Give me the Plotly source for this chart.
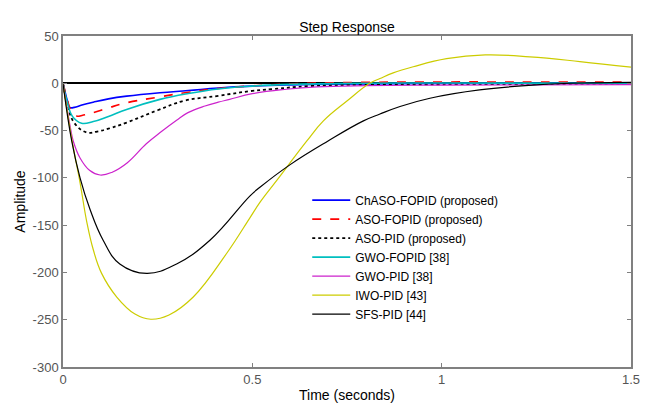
import plotly.graph_objects as go

# ---- data ----
names = ["ChASO-FOPID (proposed)", "ASO-FOPID (proposed)", "ASO-PID (proposed)",
         "GWO-FOPID [38]", "GWO-PID [38]", "IWO-PID [43]", "SFS-PID [44]"]

t_chaso = [0, 0.006, 0.012, 0.018, 0.03, 0.05, 0.08, 0.12, 0.168, 0.256, 0.331, 0.41, 0.5, 0.6, 0.8, 1.0, 1.5]
y_chaso = [0, -10, -19, -25.5, -25.5, -23, -20, -16.5, -13.6, -10, -7.7, -5, -3, -1.8, -0.6, -0.2, 0]

t_asofo = [0, 0.01, 0.02, 0.036, 0.05, 0.08, 0.12, 0.168, 0.256, 0.331, 0.41, 0.5, 0.6, 0.7, 0.8, 1.0, 1.2, 1.5]
y_asofo = [0, -15, -28, -34.6, -34, -31, -26, -20.6, -14.3, -9.5, -5.5, -2.7, -0.7, 0.4, 1, 1.4, 1.4, 1.2]

t_asopid = [0, 0.01, 0.03, 0.063, 0.09, 0.12, 0.168, 0.25, 0.32, 0.41, 0.5, 0.55, 0.65, 0.8, 1.0, 1.5]
y_asopid = [0, -20, -42, -52, -51, -48, -41.5, -28.5, -18.5, -13.3, -8, -6.3, -3, -1.5, -1, -0.5]

t_gwofo = [0, 0.01, 0.025, 0.049, 0.08, 0.12, 0.168, 0.256, 0.331, 0.41, 0.5, 0.6, 0.8, 1.0, 1.5]
y_gwofo = [0, -18, -35, -42.3, -40.5, -35, -27.6, -17, -10.8, -6, -3, -1.2, 0, 0.3, 0]

t_gwopid = [0, 0.01, 0.02, 0.027, 0.045, 0.07, 0.098, 0.13, 0.17, 0.22, 0.26, 0.3, 0.33, 0.375, 0.41, 0.44, 0.5, 0.59, 0.67, 0.8, 1.0, 1.5]
y_gwopid = [0, -25, -48, -61, -79, -92, -97, -94, -84, -64, -51, -39, -31, -24, -20, -17, -11, -6.3, -3.8, -2.5, -2, -1.5]

t_iwo = [0, 0.024, 0.045, 0.063, 0.08, 0.102, 0.142, 0.19, 0.232, 0.28, 0.344, 0.432, 0.494, 0.52, 0.564, 0.644, 0.687, 0.749,
         0.81, 0.837, 0.872, 0.925, 1.013, 1.115, 1.233, 1.365, 1.5]
y_iwo = [0, -61, -105, -147, -176, -201, -226, -244, -249.5, -245, -226, -180, -142, -126, -103, -61, -40, -19,
         0, 5, 11, 17.5, 26, 30, 28, 23, 17]

t_sfs = [0, 0.023, 0.045, 0.071, 0.106, 0.15, 0.221, 0.3, 0.388, 0.494, 0.52, 0.6, 0.7, 0.792, 0.837, 0.89, 0.969, 1.1, 1.25, 1.4, 1.5]
y_sfs = [0, -61, -100, -133, -166, -191, -201, -191, -166, -119, -110, -86, -61, -40, -32.5, -24.5, -15.8, -7, -1.7, 0.5, 1]

x_ticks = [0, 0.5, 1, 1.5]
x_tick_labels = ["0", "0.5", "1", "1.5"]
y_ticks = [-300, -250, -200, -150, -100, -50, 0, 50]
y_tick_labels = ["-300", "-250", "-200", "-150", "-100", "-50", "0", "50"]

series = [
    (t_chaso, y_chaso, "#0000ff", "solid", 1.6),
    (t_asofo, y_asofo, "#ff0000", "dash", 1.6),
    (t_asopid, y_asopid, "#000000", "dot", 1.8),
    (t_gwofo, y_gwofo, "#00bfbf", "solid", 1.6),
    (t_gwopid, y_gwopid, "#cc22cc", "solid", 1.2),
    (t_iwo, y_iwo, "#cccc00", "solid", 1.2),
    (t_sfs, y_sfs, "#000000", "solid", 1.2),
]

fig = go.Figure()
for name, (tx, ty, col, dash, w) in zip(names, series):
    fig.add_trace(go.Scatter(x=tx, y=ty, mode="lines", name=name,
                             line=dict(color=col, dash=dash, width=w, shape="spline", smoothing=1.2)))

font_fam = "Arial, Liberation Sans, sans-serif"
W, H = 646, 395   # page body has an 8px margin, so the figure sits at (8, 8)
fig.update_layout(
    width=W, height=H,
    margin=dict(l=55, r=23, t=28, b=36, autoexpand=False),
    paper_bgcolor="white", plot_bgcolor="white",
    font=dict(family=font_fam, size=13, color="#404040"),
    title=dict(text="Step Response", x=0.5, xanchor="center", xref="paper",
               y=1 - 19 / H, yref="container", yanchor="middle", automargin=False,
               font=dict(family=font_fam, size=14, color="#000000")),
    showlegend=True,
    legend=dict(x=0.43, y=0.548, xanchor="left", yanchor="top",
                bgcolor="rgba(255,255,255,1)", borderwidth=0,
                font=dict(family=font_fam, size=12, color="#000000"),
                tracegroupgap=0, itemwidth=38),
)
fig.update_xaxes(range=[0, 1.5], tickvals=x_ticks, ticktext=x_tick_labels, automargin=False,
                 showgrid=False, zeroline=False, showline=True, linecolor="#808080", linewidth=1.5,
                 mirror="allticks", ticks="inside", ticklen=4, tickcolor="#808080",
                 tickfont=dict(size=13, color="#555555"),
                 title=dict(text="Time (seconds)", font=dict(size=14, color="#000000"), standoff=4))
fig.update_yaxes(range=[-300, 50], tickvals=y_ticks, ticktext=y_tick_labels, automargin=False,
                 showgrid=False, zeroline=True, zerolinecolor="#000000", zerolinewidth=2,
                 showline=True, linecolor="#808080", linewidth=1.5,
                 mirror="allticks", ticks="inside", ticklen=4, tickcolor="#808080",
                 tickfont=dict(size=13, color="#555555"),
                 title=dict(text="Amplitude", font=dict(size=14, color="#000000"), standoff=4))

fig.write_html("out.html")
